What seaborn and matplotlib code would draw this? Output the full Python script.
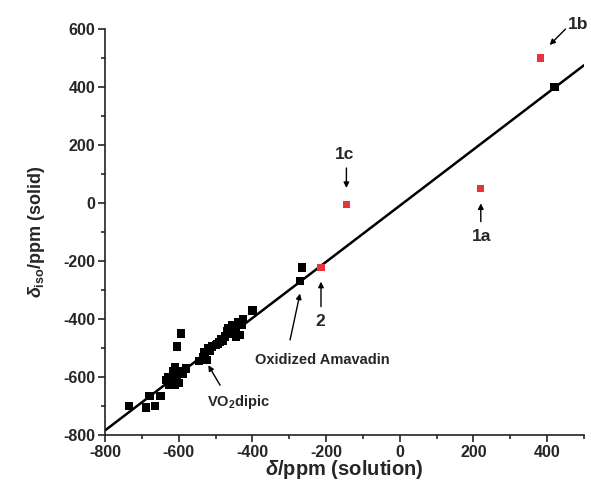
import numpy as np
import pandas as pd
import matplotlib
matplotlib.use("Agg")
import matplotlib.pyplot as plt
import seaborn as sns

# ---- data ----
black_x = [-735, -690, -680, -665, -650, -635, -630, -625, -620, -620, -615, -610,
           -610, -605, -605, -600, -600, -595, -590, -580,
           -545, -535, -530, -525, -520, -515, -510, -500, -495, -490, -485, -480,
           -475, -470, -465, -460, -455, -450, -445, -445, -440, -435, -430, -425,
           -400, -271, -266, 420]
black_y = [-700, -705, -665, -700, -665, -610, -600, -625, -600, -615, -580, -625,
           -565, -600, -495, -620, -580, -450, -590, -570,
           -545, -530, -515, -540, -500, -510, -495, -490, -485, -480, -470, -475,
           -460, -440, -430, -450, -420, -440, -430, -460, -410, -455, -420, -400,
           -370, -269, -222, 400]
red_labels = ["1a", "1b", "1c", "2"]
red_x = [220, 382, -145, -214]
red_y = [50, 500, -5, -222]
fit_slope = 0.968
fit_intercept = -9.0
x_ticks = [-800, -600, -400, -200, 0, 200, 400]
y_ticks = [-800, -600, -400, -200, 0, 200, 400, 600]

sns.set_style("white")
plt.rcParams["font.family"] = ["Liberation Sans", "DejaVu Sans"]
plt.rcParams["font.weight"] = "bold"
plt.rcParams["axes.unicode_minus"] = False
plt.rcParams["mathtext.fontset"] = "custom"
plt.rcParams["mathtext.rm"] = "Liberation Sans:bold"
plt.rcParams["mathtext.it"] = "Liberation Sans:italic:bold"
plt.rcParams["mathtext.bf"] = "Liberation Sans:bold"

fig = plt.figure(figsize=(5.91, 4.84), dpi=100)
ax = fig.add_axes([0.178, 0.101, 0.810, 0.839])

# fit line
line_df = pd.DataFrame({"x": [-800, 500]})
line_df["y"] = fit_slope * line_df["x"] + fit_intercept
sns.lineplot(data=line_df, x="x", y="y", ax=ax, color="black", lw=1.8, zorder=2)

black_df = pd.DataFrame({"x": black_x, "y": black_y})
sns.scatterplot(data=black_df, x="x", y="y", ax=ax, marker="s", s=36,
                color="black", edgecolor="none", zorder=3)
red_df = pd.DataFrame({"x": red_x, "y": red_y, "label": red_labels})
sns.scatterplot(data=red_df, x="x", y="y", ax=ax, marker="s", s=28,
                color="#e8323c", edgecolor="none", zorder=3)

ax.set_xlim(-800, 500)
ax.set_ylim(-800, 600)
ax.set_xticks(x_ticks)
ax.set_yticks(y_ticks)
ax.set_xticks(np.arange(-700, 501, 200), minor=True)
ax.set_yticks(np.arange(-700, 601, 200), minor=True)
ax.tick_params(axis="both", which="major", direction="out", length=5, width=1.2,
               labelsize=11.5, bottom=True, left=True, pad=2)
ax.tick_params(axis="both", which="minor", direction="out", length=3, width=1.2,
               bottom=True, left=True)
for lab in ax.get_xticklabels() + ax.get_yticklabels():
    lab.set_fontweight("bold")
for s in ["top", "right"]:
    ax.spines[s].set_visible(False)
for s in ["left", "bottom"]:
    ax.spines[s].set_linewidth(1.2)
    ax.spines[s].set_color("#222222")

ax.set_xlabel(r"$\mathit{\delta}$/ppm (solution)", fontsize=14.5, fontweight="bold", labelpad=-1)
ax.set_ylabel(r"$\mathit{\delta}_{\mathrm{iso}}$/ppm (solid)", fontsize=13, fontweight="bold")
ax.yaxis.set_label_coords(-0.122, 0.5)

arrow = dict(arrowstyle="-|>", color="black", lw=1.0, mutation_scale=8, shrinkA=0, shrinkB=0)
kw = dict(fontweight="bold", ha="center", va="center", annotation_clip=False)
ax.annotate("1b", xy=(484, 614), fontsize=12.5, **kw)
ax.annotate("", xy=(407, 545), xytext=(450, 600), arrowprops=arrow, annotation_clip=False)
ax.annotate("1c", xy=(-149, 166), fontsize=12.5, **kw)
ax.annotate("", xy=(-145, 52), xytext=(-145, 121), arrowprops=arrow, annotation_clip=False)
ax.annotate("1a", xy=(222, -116), fontsize=12.5, **kw)
ax.annotate("", xy=(220, -1), xytext=(220, -64), arrowprops=arrow, annotation_clip=False)
ax.annotate("2", xy=(-215, -409), fontsize=12.5, **kw)
ax.annotate("", xy=(-214, -271), xytext=(-214, -357), arrowprops=arrow, annotation_clip=False)
ax.text(-211, -541, "Oxidized Amavadin", fontsize=10.5, fontweight="bold", ha="center", va="center")
ax.annotate("", xy=(-271, -312), xytext=(-298, -472), arrowprops=arrow, annotation_clip=False)
ax.text(-439, -686, r"VO$_2$dipic", fontsize=10.5, fontweight="bold", ha="center", va="center")
ax.annotate("", xy=(-520, -559), xytext=(-488, -628), arrowprops=arrow, annotation_clip=False)

fig.savefig("out.png", dpi=100)
